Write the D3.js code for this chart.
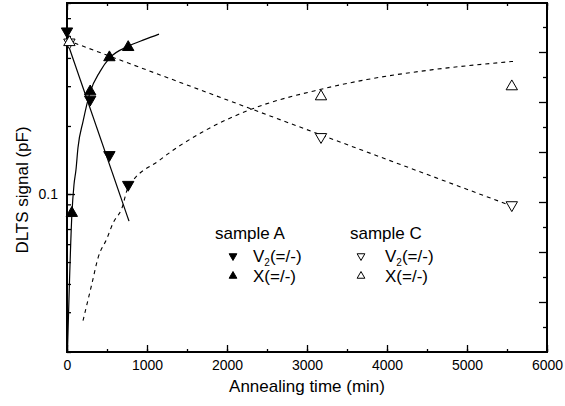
<!DOCTYPE html>
<html>
<head>
<meta charset="utf-8">
<script src="https://cdn.jsdelivr.net/npm/d3@7/dist/d3.min.js"></script>
<style>
  body { margin: 0; background: #fff; }
  svg { font-family: "Liberation Sans", Arial, sans-serif; }
</style>
</head>
<body>
<div id="chart"></div>
<script>
// measured points, time in min, signal in pF
const aV2 = [[0, 0.525], [290, 0.262], [530, 0.149], [765, 0.110]];
const aX = [[60, 0.0823], [290, 0.284], [530, 0.402], [765, 0.446]];
const cV2 = [[30, 0.469], [3175, 0.179], [5560, 0.0894]];
const cX = [[30, 0.469], [3175, 0.270], [5560, 0.299]];

// fit curves
const aV2Fit = [[0, 0.474], [775, 0.0759]];
const aXFit = [[6, 0.02], [62, 0.0823], [87, 0.1096], [112, 0.1278], [137, 0.160], [200, 0.209],
  [287, 0.281], [412, 0.348], [537, 0.401], [762, 0.450], [975, 0.483], [1150, 0.510]];
const cV2Fit = [[0, 0.479], [5560, 0.0885]];
const cXFit = [[200, 0.0275], [312, 0.0402], [387, 0.0520], [500, 0.0637], [575, 0.0743],
  [687, 0.0867], [762, 0.1063], [1162, 0.1416], [1700, 0.1886], [2287, 0.236], [3162, 0.290],
  [3750, 0.321], [4575, 0.355], [5575, 0.386]];

const xTicks = [0, 1000, 2000, 3000, 4000, 5000, 6000];

const width = 565, height = 406;
const mLeft = 67, mRight = 547, mTop = 3, mBottom = 352;

const svg = d3.select('#chart').append('svg')
  .attr('width', width)
  .attr('height', height);

const x = d3.scaleLinear().domain([0, 6000]).range([mLeft, mRight]);
const y = d3.scaleLog().domain([0.02, 0.7]).range([mBottom, mTop]);
const y2 = d3.scaleLinear().domain([0, 14]).range([mBottom, mBottom - 350]);

// minor tick values for log axis
const yMinor = [];
for (let d = 0.01; d < 1; d *= 10) {
  for (let k = 1; k < 10; k++) {
    const v = +(d * k).toPrecision(3);
    if (v >= 0.02 && v <= 0.7) yMinor.push(v);
  }
}

function styleAxis(g) {
  g.select('.domain').remove();
  g.selectAll('line').attr('stroke', '#000').attr('stroke-width', 1.3);
  g.selectAll('text').attr('fill', '#000').style('font-size', '14px');
}

// bottom axis
svg.append('g')
  .attr('transform', `translate(0,${mBottom})`)
  .call(d3.axisBottom(x).tickValues(d3.range(0, 6001, 500)).tickSize(-3).tickFormat(''))
  .call(styleAxis);
svg.append('g')
  .attr('transform', `translate(0,${mBottom})`)
  .call(d3.axisBottom(x).tickValues(xTicks).tickSize(-7).tickPadding(8).tickFormat(d3.format('d')))
  .call(styleAxis);

// top axis
svg.append('g')
  .attr('transform', `translate(0,${mTop})`)
  .call(d3.axisTop(x).tickValues(d3.range(0, 6001, 500)).tickSize(-3).tickFormat(''))
  .call(styleAxis);
svg.append('g')
  .attr('transform', `translate(0,${mTop})`)
  .call(d3.axisTop(x).tickValues(xTicks).tickSize(-7).tickFormat(''))
  .call(styleAxis);

// left axis
svg.append('g')
  .attr('transform', `translate(${mLeft},0)`)
  .call(d3.axisLeft(y).tickValues(yMinor).tickSize(-4).tickFormat(''))
  .call(styleAxis);
svg.append('g')
  .attr('transform', `translate(${mLeft},0)`)
  .call(d3.axisLeft(y).tickValues([0.1]).tickSize(-8).tickPadding(9).tickFormat(d3.format('.1f')))
  .call(styleAxis);

// right axis (unlabelled)
svg.append('g')
  .attr('transform', `translate(${mRight},0)`)
  .call(d3.axisRight(y2).tickValues(d3.range(1, 14, 2)).tickSize(-4).tickFormat(''))
  .call(styleAxis);
svg.append('g')
  .attr('transform', `translate(${mRight},0)`)
  .call(d3.axisRight(y2).tickValues(d3.range(2, 14, 2)).tickSize(-8).tickFormat(''))
  .call(styleAxis);

// frame
svg.append('rect')
  .attr('x', mLeft).attr('y', mTop)
  .attr('width', mRight - mLeft).attr('height', mBottom - mTop)
  .attr('fill', 'none').attr('stroke', '#000').attr('stroke-width', 2);

const line = d3.line().x(d => x(d[0])).y(d => y(d[1]));
const lineS = d3.line().curve(d3.curveMonotoneX).x(d => x(d[0])).y(d => y(d[1]));

const plot = svg.append('g');
plot.append('path').datum(aV2Fit).attr('d', line)
  .attr('fill', 'none').attr('stroke', '#000').attr('stroke-width', 1.2);
plot.append('path').datum(aXFit).attr('d', lineS)
  .attr('fill', 'none').attr('stroke', '#000').attr('stroke-width', 1.2);
plot.append('path').datum(cV2Fit).attr('d', line)
  .attr('fill', 'none').attr('stroke', '#000').attr('stroke-width', 1.1)
  .attr('stroke-dasharray', '4,4');
plot.append('path').datum(cXFit).attr('d', lineS)
  .attr('fill', 'none').attr('stroke', '#000').attr('stroke-width', 1.1)
  .attr('stroke-dasharray', '4,4');

const tri = d3.symbol().type(d3.symbolTriangle).size(56);
const triSmall = d3.symbol().type(d3.symbolTriangle).size(26);

function markers(data, down, filled) {
  plot.selectAll(null)
    .data(data)
    .enter()
    .append('path')
    .attr('d', tri)
    .attr('transform', d => `translate(${x(d[0])},${y(d[1])})` + (down ? ' rotate(180)' : ''))
    .attr('fill', filled ? '#000' : '#fff')
    .attr('stroke', '#000')
    .attr('stroke-width', 1);
}
markers(cV2, true, false);
markers(cX, false, false);
markers(aV2, true, true);
markers(aX, false, true);

// legend
const legend = svg.append('g').style('font-size', '17px');
const legendRows = [
  { x: 215, title: 'sample A', filled: true },
  { x: 350, title: 'sample C', filled: false }
];
legendRows.forEach(col => {
  legend.append('text').attr('x', col.x).attr('y', 239).text(col.title);
  const markX = col.filled ? col.x + 18 : col.x + 11;
  const textX = col.filled ? col.x + 38 : col.x + 35;
  legend.append('path').attr('d', triSmall)
    .attr('transform', `translate(${markX},256) rotate(180)`)
    .attr('fill', col.filled ? '#000' : '#fff').attr('stroke', '#000').attr('stroke-width', 1);
  const t1 = legend.append('text').attr('x', textX).attr('y', 262);
  t1.append('tspan').text('V');
  t1.append('tspan').attr('dy', 4).style('font-size', '10px').text('2');
  t1.append('tspan').attr('dy', -4).text('(=/-)');
  legend.append('path').attr('d', triSmall)
    .attr('transform', `translate(${markX},276)`)
    .attr('fill', col.filled ? '#000' : '#fff').attr('stroke', '#000').attr('stroke-width', 1);
  legend.append('text').attr('x', textX).attr('y', 282).text('X(=/-)');
});

// axis titles
svg.append('text')
  .attr('x', (mLeft + mRight) / 2).attr('y', 392)
  .attr('text-anchor', 'middle').style('font-size', '17px')
  .text('Annealing time (min)');
svg.append('text')
  .attr('transform', 'translate(28,190) rotate(-90)')
  .attr('text-anchor', 'middle').style('font-size', '17px')
  .text('DLTS signal (pF)');
</script>
</body>
</html>
